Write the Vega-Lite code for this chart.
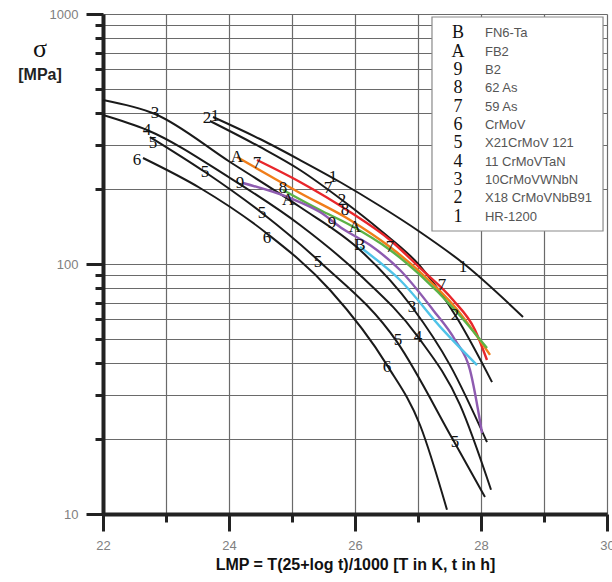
{
  "$schema": "https://vega.github.io/schema/vega-lite/v6.json",
  "width": 504,
  "height": 500,
  "autosize": {"type": "none"},
  "padding": {"left": 103, "top": 14, "right": 5, "bottom": 68},
  "background": "white",
  "config": {"view": {"stroke": null}, "font": "Liberation Sans"},
  "datasets": {
    "black": [
      {"c": "1", "x": 23.746, "y": 387.3}, {"c": "1", "x": 24.492, "y": 316.2}, {"c": "1", "x": 25.127, "y": 260.6}, {"c": "1", "x": 25.762, "y": 212.8}, {"c": "1", "x": 26.397, "y": 170.6}, {"c": "1", "x": 27.032, "y": 134.3}, {"c": "1", "x": 27.714, "y": 100.9}, {"c": "1", "x": 28.667, "y": 61.4},
      {"c": "2", "x": 23.698, "y": 373.3}, {"c": "2", "x": 24.492, "y": 293.8}, {"c": "2", "x": 25.127, "y": 237.7}, {"c": "2", "x": 25.794, "y": 180.3}, {"c": "2", "x": 26.397, "y": 136.8}, {"c": "2", "x": 27.032, "y": 98.2}, {"c": "2", "x": 27.619, "y": 60.8}, {"c": "2", "x": 28.175, "y": 33.7},
      {"c": "3", "x": 22.0, "y": 452.9}, {"c": "3", "x": 22.825, "y": 398.1}, {"c": "3", "x": 24.016, "y": 255.9}, {"c": "3", "x": 25.127, "y": 169.0}, {"c": "3", "x": 26.079, "y": 113.8}, {"c": "3", "x": 26.905, "y": 67.3}, {"c": "3", "x": 27.508, "y": 39.4}, {"c": "3", "x": 28.095, "y": 19.4},
      {"c": "4", "x": 22.0, "y": 394.5}, {"c": "4", "x": 22.698, "y": 343.6}, {"c": "4", "x": 24.016, "y": 220.8}, {"c": "4", "x": 25.127, "y": 143.2}, {"c": "4", "x": 26.079, "y": 90.4}, {"c": "4", "x": 27.0, "y": 51.1}, {"c": "4", "x": 27.667, "y": 27.3}, {"c": "4", "x": 28.159, "y": 12.5},
      {"c": "5", "x": 22.746, "y": 322.1}, {"c": "5", "x": 23.619, "y": 233.3}, {"c": "5", "x": 24.524, "y": 160.0}, {"c": "5", "x": 25.444, "y": 101.9}, {"c": "5", "x": 26.667, "y": 48.8}, {"c": "5", "x": 27.556, "y": 19.8}, {"c": "5", "x": 28.063, "y": 11.7},
      {"c": "6", "x": 22.635, "y": 265.5}, {"c": "6", "x": 23.54, "y": 201.4}, {"c": "6", "x": 24.571, "y": 134.3}, {"c": "6", "x": 25.603, "y": 78.7}, {"c": "6", "x": 26.508, "y": 39.4}, {"c": "6", "x": 27.032, "y": 22.7}, {"c": "6", "x": 27.46, "y": 10.4}
    ],
    "colored": [
      {"c": "7", "x": 24.444, "y": 260.6}, {"c": "7", "x": 25.127, "y": 212.8}, {"c": "7", "x": 25.921, "y": 161.4}, {"c": "7", "x": 26.556, "y": 124.7}, {"c": "7", "x": 27.032, "y": 96.4}, {"c": "7", "x": 27.556, "y": 71.8}, {"c": "7", "x": 27.905, "y": 54.5}, {"c": "7", "x": 28.095, "y": 41.3},
      {"c": "A", "x": 24.127, "y": 267.9}, {"c": "A", "x": 24.651, "y": 224.9}, {"c": "A", "x": 25.127, "y": 192.3}, {"c": "A", "x": 25.921, "y": 150.0}, {"c": "A", "x": 26.556, "y": 116.9}, {"c": "A", "x": 27.032, "y": 92.9}, {"c": "A", "x": 27.587, "y": 67.3}, {"c": "A", "x": 28.143, "y": 43.3},
      {"c": "8", "x": 24.857, "y": 197.7}, {"c": "8", "x": 25.444, "y": 164.4}, {"c": "8", "x": 25.921, "y": 143.2}, {"c": "8", "x": 26.556, "y": 113.8}, {"c": "8", "x": 27.032, "y": 90.4}, {"c": "8", "x": 27.587, "y": 65.5}, {"c": "8", "x": 28.095, "y": 46.1},
      {"c": "9", "x": 24.222, "y": 210.9}, {"c": "9", "x": 24.968, "y": 183.7}, {"c": "9", "x": 25.444, "y": 161.4}, {"c": "9", "x": 25.81, "y": 138.0}, {"c": "9", "x": 26.238, "y": 119.1}, {"c": "9", "x": 26.714, "y": 94.6}, {"c": "9", "x": 27.238, "y": 65.5}, {"c": "9", "x": 27.587, "y": 49.7}, {"c": "9", "x": 27.825, "y": 37.7}, {"c": "9", "x": 28.016, "y": 21.1},
      {"c": "B", "x": 26.079, "y": 116.9}, {"c": "B", "x": 26.714, "y": 86.3}, {"c": "B", "x": 27.397, "y": 54.5}, {"c": "B", "x": 27.937, "y": 39.4}
    ],
    "labels": [
      {"t": "2", "x": 23.651, "y": 383.7}, {"t": "1", "x": 23.778, "y": 390.8},
      {"t": "3", "x": 22.825, "y": 401.8}, {"t": "4", "x": 22.698, "y": 343.6},
      {"t": "5", "x": 22.794, "y": 304.8}, {"t": "6", "x": 22.54, "y": 260.6},
      {"t": "5", "x": 23.619, "y": 233.3}, {"t": "5", "x": 24.524, "y": 160.0},
      {"t": "6", "x": 24.603, "y": 127.1}, {"t": "5", "x": 25.413, "y": 101.9},
      {"t": "5", "x": 26.683, "y": 49.7}, {"t": "6", "x": 26.508, "y": 38.7},
      {"t": "5", "x": 27.587, "y": 19.4}, {"t": "3", "x": 26.905, "y": 67.3},
      {"t": "4", "x": 27.0, "y": 51.1}, {"t": "1", "x": 25.651, "y": 222.8},
      {"t": "1", "x": 27.714, "y": 97.3}, {"t": "2", "x": 25.794, "y": 180.3},
      {"t": "2", "x": 27.587, "y": 62.5}, {"t": "7", "x": 24.444, "y": 253.5},
      {"t": "7", "x": 25.571, "y": 201.4}, {"t": "7", "x": 26.556, "y": 116.9},
      {"t": "7", "x": 27.381, "y": 82.4}, {"t": "A", "x": 24.127, "y": 267.9},
      {"t": "A", "x": 24.937, "y": 180.3}, {"t": "A", "x": 26.0, "y": 140.6},
      {"t": "8", "x": 24.857, "y": 201.4}, {"t": "8", "x": 25.841, "y": 164.4},
      {"t": "9", "x": 24.175, "y": 210.9}, {"t": "9", "x": 25.635, "y": 145.9},
      {"t": "B", "x": 26.079, "y": 119.1}
    ],
    "keyrows": [
      {"s": "B", "mat": "FN6-Ta", "y": 839.5},
      {"s": "A", "mat": "FB2", "y": 704.7},
      {"s": "9", "mat": "B2", "y": 597.0},
      {"s": "8", "mat": "62 As", "y": 505.8},
      {"s": "7", "mat": "59 As", "y": 424.6},
      {"s": "6", "mat": "CrMoV", "y": 359.7},
      {"s": "5", "mat": "X21CrMoV 121", "y": 304.8},
      {"s": "4", "mat": "11 CrMoVTaN", "y": 255.9},
      {"s": "3", "mat": "10CrMoVWNbN", "y": 216.8},
      {"s": "2", "mat": "X18 CrMoVNbB91", "y": 183.7},
      {"s": "1", "mat": "HR-1200", "y": 154.2}
    ],
    "box": [{"x": 27.222, "xe": 29.937, "y": 972.6, "ye": 135.5}],
    "ytitle": [
      {"t": "σ", "x": 21.0, "y": 724.4, "k": "s"},
      {"t": "[MPa]", "x": 21.0, "y": 570.2, "k": "m"}
    ]
  },
  "encoding": {
    "y": {
      "field": "y", "type": "quantitative",
      "scale": {"type": "log", "domain": [10, 1000], "nice": false},
      "axis": {
        "values": [10, 20, 30, 40, 50, 60, 70, 80, 90, 100, 200, 300, 400, 500, 600, 700, 800, 900, 1000],
        "format": "d",
        "labelExpr": "(datum.value == 10 || datum.value == 100 || datum.value == 1000) ? datum.label : ''",
        "labelOverlap": false, "labelFlush": false,
        "title": null,
        "grid": true, "gridColor": "#6a6a6a", "gridWidth": 1.2,
        "domainColor": "#222", "domainWidth": 4,
        "tickColor": "#222", "tickWidth": 3,
        "tickSize": {"condition": {"test": "datum.value == 10 || datum.value == 100 || datum.value == 1000", "value": 17}, "value": 8},
        "labelColor": "#808080", "labelFontSize": 13, "labelPadding": 8
      }
    }
  },
  "layer": [
    {
      "data": {"name": "box"},
      "mark": {"type": "rect", "fill": "white", "stroke": "#8a8a8a", "strokeWidth": 1.2},
      "encoding": {
        "x": {
          "field": "x", "type": "quantitative",
          "scale": {"type": "linear", "domain": [22, 30], "nice": false, "zero": false},
          "axis": {
            "values": [22, 23, 24, 25, 26, 27, 28, 29, 30],
            "format": "d",
            "labelExpr": "datum.value % 2 == 0 ? datum.label : ''",
            "labelFlush": false, "labelOverlap": false,
            "title": "LMP = T(25+log t)/1000 [T in K, t in h]",
            "titleFont": "Liberation Sans", "titleFontSize": 16, "titleFontWeight": "bold", "titleColor": "#111", "titlePadding": 4,
            "grid": true, "gridColor": "#6a6a6a", "gridWidth": 1.2,
            "domainColor": "#222", "domainWidth": 4,
            "tickColor": "#222", "tickWidth": 3,
            "tickSize": {"condition": {"test": "datum.value % 2 == 0", "value": 17}, "value": 8},
            "labelColor": "#808080", "labelFontSize": 13, "labelPadding": 8
          }
        },
        "x2": {"field": "xe"},
        "y2": {"field": "ye"}
      }
    },
    {
      "data": {"name": "black"},
      "mark": {"type": "line", "color": "#1a1a1a", "strokeWidth": 2, "interpolate": "monotone"},
      "encoding": {
        "x": {"field": "x", "type": "quantitative", "scale": {"domain": [22, 30], "nice": false, "zero": false}},
        "detail": {"field": "c", "type": "nominal"}
      }
    },
    {
      "data": {"name": "colored"},
      "mark": {"type": "line", "strokeWidth": 2.4, "interpolate": "monotone"},
      "encoding": {
        "x": {"field": "x", "type": "quantitative", "scale": {"domain": [22, 30], "nice": false, "zero": false}},
        "color": {"field": "c", "type": "nominal", "legend": null,
          "scale": {"domain": ["B", "9", "8", "A", "7"], "range": ["#4fc3e8", "#8e5bb0", "#5cb246", "#f07d1a", "#e8262b"]}}
      }
    },
    {
      "data": {"name": "labels"},
      "mark": {"type": "text", "font": "Liberation Serif", "fontSize": 17, "color": "#111", "align": "center", "baseline": "middle"},
      "encoding": {
        "x": {"field": "x", "type": "quantitative", "scale": {"domain": [22, 30], "nice": false, "zero": false}},
        "text": {"field": "t"}
      }
    },
    {
      "data": {"name": "keyrows"},
      "mark": {"type": "text", "font": "Liberation Serif", "fontSize": 18, "color": "#111", "align": "center", "baseline": "middle"},
      "encoding": {"x": {"datum": 27.635, "type": "quantitative"}, "text": {"field": "s", "type": "nominal"}}
    },
    {
      "data": {"name": "keyrows"},
      "mark": {"type": "text", "font": "Liberation Sans", "fontSize": 13, "color": "#555", "align": "left", "baseline": "middle"},
      "encoding": {"x": {"datum": 28.063, "type": "quantitative"}, "text": {"field": "mat", "type": "nominal"}}
    },
    {
      "data": {"name": "ytitle"},
      "transform": [{"filter": "datum.k == 's'"}],
      "mark": {"type": "text", "font": "Liberation Serif", "fontSize": 26, "color": "#111", "align": "center", "baseline": "middle"},
      "encoding": {
        "x": {"field": "x", "type": "quantitative", "scale": {"domain": [22, 30], "nice": false, "zero": false}},
        "text": {"field": "t"}
      }
    },
    {
      "data": {"name": "ytitle"},
      "transform": [{"filter": "datum.k == 'm'"}],
      "mark": {"type": "text", "font": "Liberation Sans", "fontSize": 16, "fontWeight": "bold", "color": "#222", "align": "center", "baseline": "middle"},
      "encoding": {
        "x": {"field": "x", "type": "quantitative", "scale": {"domain": [22, 30], "nice": false, "zero": false}},
        "text": {"field": "t"}
      }
    }
  ]
}
